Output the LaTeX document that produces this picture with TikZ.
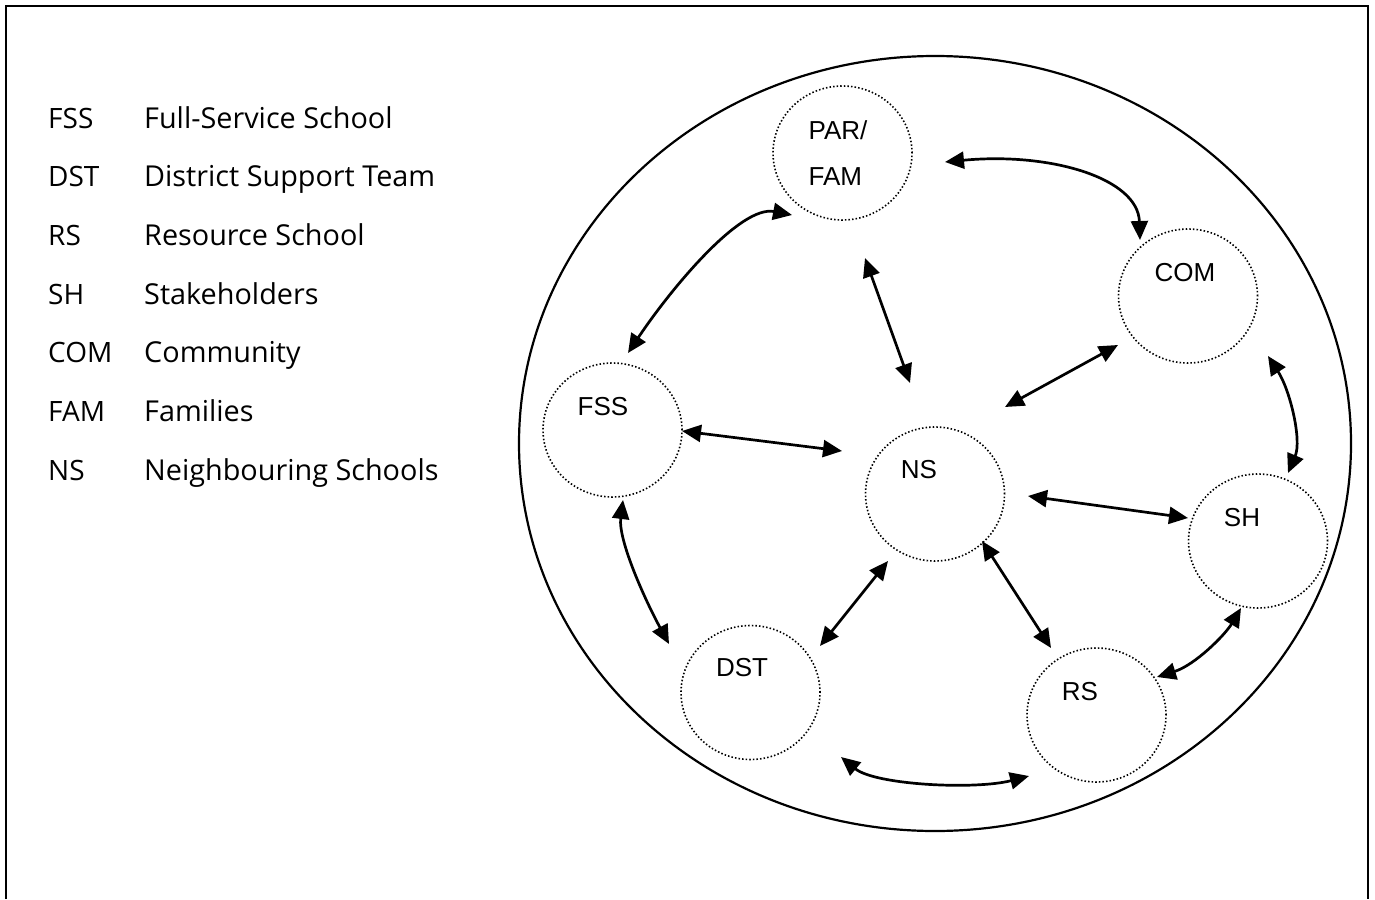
\documentclass[tikz,border=0pt]{standalone}
\usepackage{fontspec}
\setmainfont{Open Sans}
\newfontfamily\arialfont{Liberation Sans}
\usetikzlibrary{arrows.meta,shapes.geometric}
\begin{document}
\begin{tikzpicture}[x=1pt,y=-1pt,
  ring/.style={ellipse,draw,line width=1.6pt,dash pattern=on 1.5pt off 2.1pt,minimum width=139pt,minimum height=134pt,inner sep=0pt},
  outerring/.style={ellipse,draw,line width=2.2pt,minimum width=832pt,minimum height=775pt,inner sep=0pt},
  lbl/.style={font=\arialfont\fontsize{26}{46}\selectfont,inner sep=0pt},
  leg/.style={font=\fontsize{28}{34}\selectfont,anchor=base west,inner sep=0pt},
  legd/.style={font=\fontsize{28.8}{34}\selectfont,anchor=base west,inner sep=0pt},
  link/.style={line width=2.7pt,{Triangle[length=19pt,width=17pt]}-{Triangle[length=19pt,width=17pt]}}]
\useasboundingbox (0,0) rectangle (1375,899);
% frame
\draw[line width=1.5pt] (6,899) -- (6,6) -- (1368,6) -- (1368,899);
% legend
\foreach \a/\b [count=\i from 0] in {FSS/Full-Service School,DST/District Support Team,RS/Resource School,SH/Stakeholders,COM/Community,FAM/Families,NS/Neighbouring Schools}{
  \node[leg] (abbr\i) at (48,128+58.67*\i) {\a};
  \node[legd] (desc\i) at (144,128+58.67*\i) {\b};
}
% outer ellipse
\node[outerring] (outer) at (935,443.5) {};
% circles
\node[ring] (pf) at (842.5,153) {};
\node[ring] (com) at (1188,296) {};
\node[ring] (fss) at (612.5,430) {};
\node[ring] (ns) at (935,494) {};
\node[ring] (sh) at (1258,541) {};
\node[ring] (dst) at (750.5,692.5) {};
\node[ring] (rs) at (1096.5,715) {};
% labels
\node[lbl,align=left] (pf-t) at (838,153) {PAR/\\FAM};
\node[lbl] (com-t) at (1185,273) {COM};
\node[lbl] (fss-t) at (603,407) {FSS};
\node[lbl] (ns-t) at (919,470) {NS};
\node[lbl] (sh-t) at (1242,518) {SH};
\node[lbl] (dst-t) at (742,668) {DST};
\node[lbl] (rs-t) at (1080,692) {RS};
% connector ends
\coordinate (pf-com-a) at (945,162);
\coordinate (pf-com-b) at (1140,240);
\coordinate (pf-fss-a) at (792,215);
\coordinate (pf-fss-b) at (628,353);
\coordinate (pf-ns-a) at (865,258);
\coordinate (pf-ns-b) at (910,383);
\coordinate (com-ns-a) at (1118,345);
\coordinate (com-ns-b) at (1005,407);
\coordinate (com-sh-a) at (1268,356);
\coordinate (com-sh-b) at (1288,473);
\coordinate (fss-ns-a) at (682,431);
\coordinate (fss-ns-b) at (842,451);
\coordinate (ns-sh-a) at (1028,496);
\coordinate (ns-sh-b) at (1188,518);
\coordinate (ns-rs-a) at (982,541);
\coordinate (ns-rs-b) at (1051,648);
\coordinate (ns-dst-a) at (888,561);
\coordinate (ns-dst-b) at (820,646);
\coordinate (fss-dst-a) at (623,500);
\coordinate (fss-dst-b) at (669,644);
\coordinate (rs-sh-a) at (1157,677);
\coordinate (rs-sh-b) at (1241,608);
\coordinate (dst-rs-a) at (841,757);
\coordinate (dst-rs-b) at (1029,776);
% connectors
\draw[link] (pf-com-a) .. controls (1050,152) and (1138,178) .. (pf-com-b);
\draw[link] (pf-fss-b) .. controls (670,290) and (740,205) .. (pf-fss-a);
\draw[link] (pf-ns-a) -- (pf-ns-b);
\draw[link] (com-ns-a) -- (com-ns-b);
\draw[link] (com-sh-a) .. controls (1290,390) and (1302,440) .. (com-sh-b);
\draw[link] (fss-ns-a) -- (fss-ns-b);
\draw[link] (ns-sh-a) -- (ns-sh-b);
\draw[link] (ns-rs-a) -- (ns-rs-b);
\draw[link] (ns-dst-a) -- (ns-dst-b);
\draw[link] (fss-dst-a) .. controls (618,540) and (645,600) .. (fss-dst-b);
\draw[link] (rs-sh-a) .. controls (1195,665) and (1225,635) .. (rs-sh-b);
\draw[link] (dst-rs-a) .. controls (875,785) and (975,790) .. (dst-rs-b);
\end{tikzpicture}
\end{document}
